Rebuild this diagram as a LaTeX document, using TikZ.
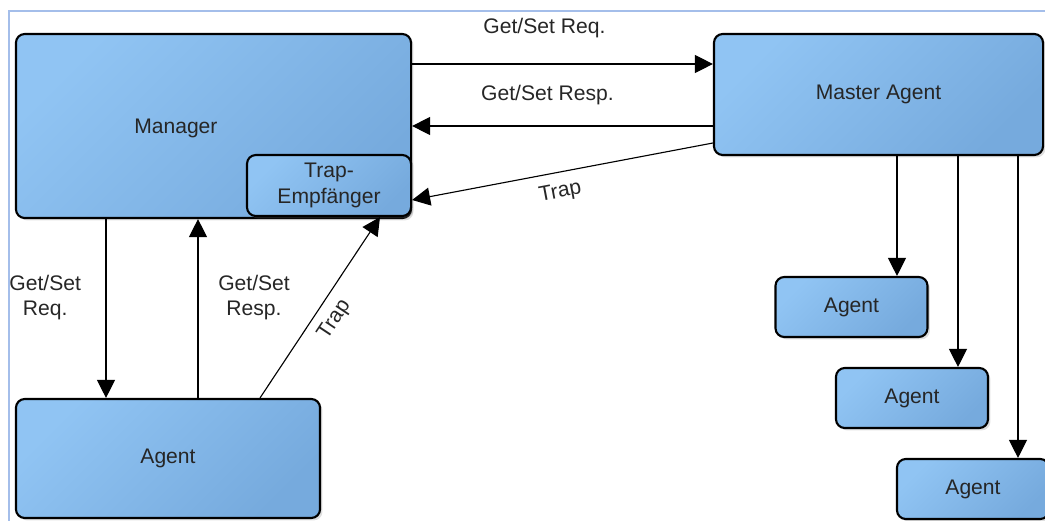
\documentclass[tikz,border=0pt]{standalone}
\usepackage{fontspec}
\setmainfont{Liberation Sans}
\usetikzlibrary{arrows.meta, positioning, quotes, shadows}
\definecolor{boxlight}{RGB}{144,196,243}
\definecolor{boxdark}{RGB}{118,170,221}
\definecolor{framecol}{RGB}{164,190,234}
\tikzstyle{box} = [draw, line width=1.5pt, rounded corners=0.22cm, top color=boxlight, bottom color=boxdark, shading angle=45, drop shadow={shadow xshift=0.06cm, shadow yshift=-0.06cm, opacity=0.25}, inner sep=0pt, align=center, text=black!85]
\tikzstyle{small box} = [box, minimum width=3.8cm, minimum height=1.5cm]

\begin{document}
\begin{tikzpicture} [x=0.025cm, y=-0.025cm, font=\fontsize{15}{18}\selectfont, >={Triangle[length=0.45cm, width=0.45cm]}, every edge/.append style={line width=0.8pt}, every edge quotes/.append style={inner sep=1pt, align=center, text=black!85}]
            \useasboundingbox (0,0) rectangle (1045,520);
            \draw[framecol, line width=1.3pt] (9,530) -- (9,11) -- (1050,11);

            \node (manager) [box, minimum width=9.875cm, minimum height=4.6cm, label={[xshift=-0.94cm, yshift=-0.05cm, text=black!85]center:Manager}] at (213.5,126) {};
            \node (trap rcv) [box, minimum width=4.1cm, minimum height=1.525cm, anchor=south east, yshift=0.05cm] at (manager.south east) {Trap-\\Empfänger};
            \node (master agent) [box, minimum width=8.225cm, minimum height=3.025cm] at (878.5,94.5) {Master Agent};
            \node (agent) [box, minimum width=7.6cm, minimum height=2.975cm] at (168,458.5) {Agent};
            \node (agent 1) [small box] at (851.5,307) {Agent};
            \node (agent 2) [small box] at (912,398) {Agent};
            \node (agent 3) [small box] at (973,489) {Agent};

            \path (manager.east |- 0,64) edge[->,"Get/Set Req." {anchor=center, yshift=0.9cm, pos=.44}] (master agent.west |- 0,64)
                  (master agent.west |- manager.east) edge[->,"Get/Set Resp." {anchor=center, yshift=0.78cm, pos=.55}] (manager.east)
                  (master agent.west |- 0,143) edge[->,"Trap" {sloped, below=0.22cm, pos=.52}] (trap rcv.east |- 0,200)
                  (manager.south -| 106,0) edge[->,"Get/Set\\Req." {anchor=center, xshift=-1.52cm, pos=.44}] (agent.north -| 106,0)
                  (agent.north -| 198,0) edge[->,"Get/Set\\Resp." {anchor=center, xshift=1.4cm, pos=.56}] (manager.south -| 198,0)
                  (agent.north -| 260,0) edge[->,"Trap" {sloped, below=0.19cm, pos=.49}] (trap rcv.south -| 380,0)
                  (master agent.south -| 897,0) edge[->] (agent 1.north -| 897,0)
                  (master agent.south -| 958,0) edge[->] (agent 2.north -| 958,0)
                  (master agent.south -| 1018,0) edge[->] (agent 3.north -| 1018,0);
        \end{tikzpicture}
\end{document}
